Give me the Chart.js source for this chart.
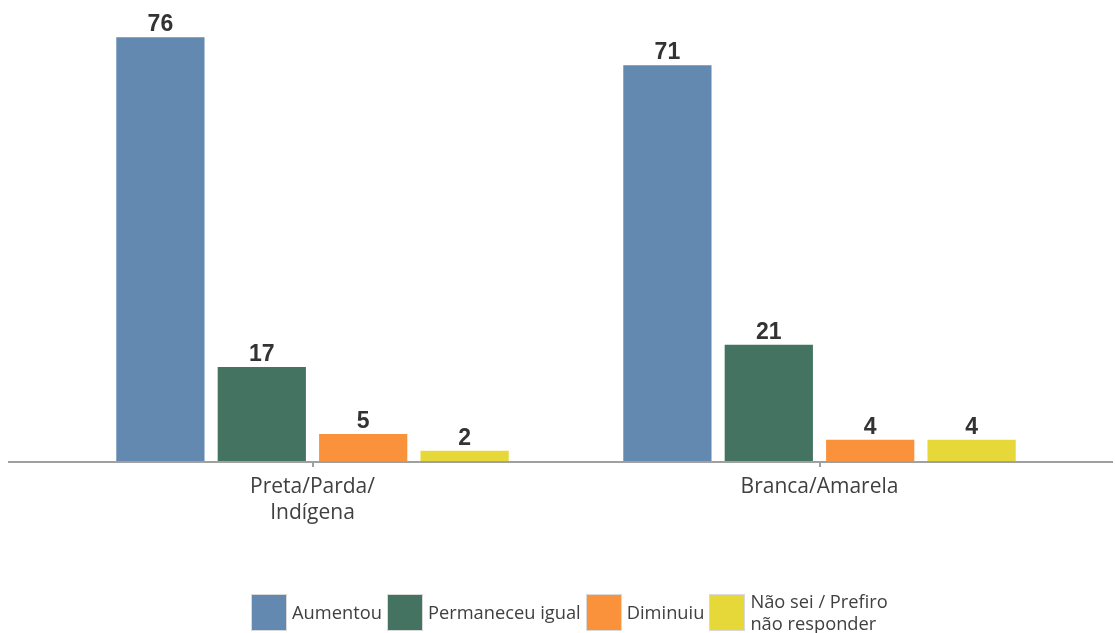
<!DOCTYPE html>
<html>
<head>
<meta charset="utf-8">
<script src="https://cdn.jsdelivr.net/npm/chart.js@4.4.0/dist/chart.umd.min.js"></script>
<style>
  html, body { margin: 0; padding: 0; background: #fff; }
  #wrap { position: relative; width: 1115px; height: 633px; }
  #legend {
    position: absolute; left: 251px; top: 590px;
    display: flex; align-items: center;
    font-family: "Open Sans", sans-serif; font-size: 18.3px; color: #404040;
  }
  .item { display: flex; align-items: center; margin-right: 5px; }
  .box { width: 34px; height: 35px; border: 1px solid #d9d9d9; margin-right: 5px; }
  .txt { line-height: 22px; }
</style>
</head>
<body>
<div id="wrap">
  <canvas id="raceChart" width="1115" height="633"></canvas>
  <div id="legend"></div>
</div>
<script>
// categories and series
const groups = [['Preta/Parda/', 'Indígena'], 'Branca/Amarela'];
const seriesNames = ['Aumentou', 'Permaneceu igual', 'Diminuiu', 'Não sei / Prefiro\nnão responder'];
const aumentou = [76, 71];
const permaneceu = [17, 21];
const diminuiu = [5, 4];
const naoSei = [2, 4];
const colors = ['#6389b1', '#447461', '#fa913b', '#e5d838'];

const seriesValues = [aumentou, permaneceu, diminuiu, naoSei];

// value labels above bars
const barLabels = {
    id: 'barLabels',
    afterDatasetsDraw(chart) {
        const ctx = chart.ctx;
        ctx.save();
        ctx.font = 'bold 23px "Liberation Sans", Arial, sans-serif';
        ctx.fillStyle = '#333333';
        ctx.textAlign = 'center';
        ctx.textBaseline = 'alphabetic';
        chart.data.datasets.forEach((ds, i) => {
            chart.getDatasetMeta(i).data.forEach((bar, j) => {
                ctx.fillText(ds.data[j], bar.x, bar.y - 5);
            });
        });
        ctx.restore();
    }
};

// long baseline that runs past the plot area
const baseLine = {
    id: 'baseLine',
    afterDraw(chart) {
        const ctx = chart.ctx;
        const y = chart.scales.y.getPixelForValue(0);
        ctx.save();
        ctx.strokeStyle = '#a0a0a0';
        ctx.lineWidth = 2;
        ctx.beginPath();
        ctx.moveTo(8, y + 1);
        ctx.lineTo(1113, y + 1);
        ctx.stroke();
        ctx.restore();
    }
};

const ctx = document.getElementById('raceChart').getContext('2d');
new Chart(ctx, {
    type: 'bar',
    data: {
        labels: groups,
        datasets: seriesNames.map((name, i) => ({
            label: name,
            data: seriesValues[i],
            backgroundColor: colors[i],
            borderColor: 'rgba(255,255,255,0.6)',
            borderWidth: 1,
            categoryPercentage: 0.8,
            barPercentage: 0.89
        }))
    },
    options: {
        responsive: false,
        animation: false,
        layout: { padding: { left: 59, right: 42, top: 14, bottom: 92 } },
        plugins: {
            legend: { display: false },
            tooltip: { enabled: false }
        },
        scales: {
            x: {
                afterFit: (scale) => { scale.height = 80; },
                border: { display: false },
                grid: {
                    offset: false,
                    drawOnChartArea: false,
                    tickLength: 6,
                    color: '#a0a0a0',
                    lineWidth: 2
                },
                ticks: {
                    color: '#404040',
                    padding: 7,
                    font: { family: '"Open Sans", sans-serif', size: 21, lineHeight: 1.25 }
                }
            },
            y: {
                display: false,
                min: 0,
                max: 80
            }
        }
    },
    plugins: [barLabels, baseLine]
});

// html legend (last entry wraps over two lines)
const legendEl = document.getElementById('legend');
seriesNames.forEach((name, i) => {
    const item = document.createElement('div');
    item.className = 'item';
    const box = document.createElement('div');
    box.className = 'box';
    box.style.background = colors[i];
    const txt = document.createElement('div');
    txt.className = 'txt';
    txt.innerHTML = name.replace('\n', '<br>');
    item.appendChild(box);
    item.appendChild(txt);
    legendEl.appendChild(item);
});
</script>
</body>
</html>
